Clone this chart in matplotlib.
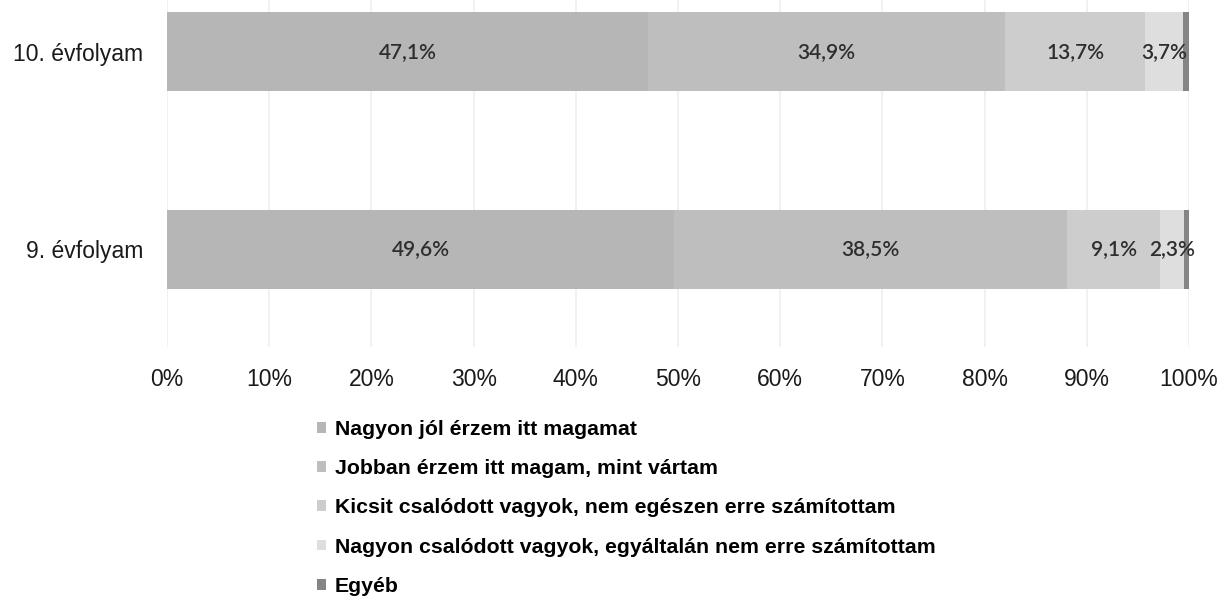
import numpy as np
import matplotlib.pyplot as plt
from matplotlib.patches import Patch

# --- data ---
groups = ["9. évfolyam", "10. évfolyam"]
answers = [
    "Nagyon jól érzem itt magamat",
    "Jobban érzem itt magam, mint vártam",
    "Kicsit csalódott vagyok, nem egészen erre számítottam",
    "Nagyon csalódott vagyok, egyáltalán nem erre számítottam",
    "Egyéb",
]
grade9 = [49.6, 38.5, 9.1, 2.3, 0.5]
grade10 = [47.1, 34.9, 13.7, 3.7, 0.6]
colors = ["#b6b6b6", "#bebebe", "#cdcdcd", "#dedede", "#858585"]

values = np.array([grade9, grade10])  # rows = groups, cols = answers

plt.rcParams["font.family"] = ["Liberation Sans", "DejaVu Sans"]

fig = plt.figure(figsize=(12.26, 5.96), dpi=100)
ax = fig.add_axes([167 / 1226, 1 - 347 / 596, (1189 - 167) / 1226, 347 / 596])

y = np.arange(len(groups))
left = np.zeros(len(groups))
for j in range(len(answers)):
    ax.barh(y, values[:, j], left=left, height=0.4, color=colors[j],
            label=answers[j], zorder=2)
    # labels for the first four segments only
    if j < 4:
        for i in range(len(groups)):
            ax.text(left[i] + values[i, j] / 2, y[i], f"{values[i, j]:.1f}%".replace(".", ","),
                    ha="center", va="center", fontsize=15, color="#2e2e2e",
                    family=["Lato", "DejaVu Sans"], fontweight="semibold", zorder=3)
    left += values[:, j]

ax.set_xlim(0, 100)
ax.set_ylim(-0.494, 1.263)
ax.set_xticks(np.arange(0, 101, 10))
ax.set_xticklabels([f"{t}%" for t in range(0, 101, 10)])
ax.set_yticks(y)
ax.set_yticklabels(groups)
ax.tick_params(axis="x", length=0, pad=15, labelsize=16.5, colors="#1a1a1a")
ax.tick_params(axis="y", length=0, pad=17, labelsize=16.5, colors="#1a1a1a")
ax.grid(axis="x", color="#efefef", linewidth=1.2, zorder=0)
ax.set_axisbelow(True)
for s in ax.spines.values():
    s.set_visible(False)

handles = [Patch(facecolor=c, edgecolor="none") for c in colors]
fig.legend(handles, answers, loc="upper left", bbox_to_anchor=(317 / 1226, 1 - 420 / 596),
           frameon=False, ncol=1, borderpad=0, borderaxespad=0,
           handlelength=0.4, handleheight=0.4, handletextpad=0.45, labelspacing=0.95,
           prop={"family": ["Liberation Sans", "DejaVu Sans"], "weight": "bold", "size": 15.3})

fig.savefig("out.png", dpi=100)
